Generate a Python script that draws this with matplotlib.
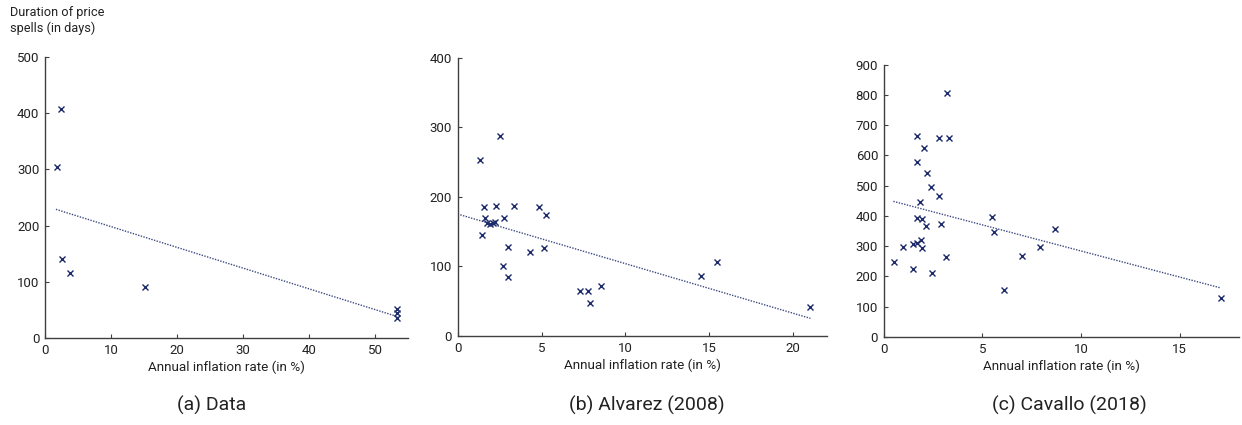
import matplotlib
matplotlib.use("Agg")
import matplotlib.pyplot as plt
import numpy as np

plt.rcParams['font.family'] = ['Roboto', 'DejaVu Sans']

# (a) Data
data_x = [2.36, 1.76, 2.6, 3.77, 15.2, 53.3, 53.3, 53.3]
data_y = [407, 305, 140, 115, 90, 51, 44, 36]

# (b) Alvarez (2008)
alv_x = [1.33, 2.51, 1.56, 2.28, 3.36, 4.83, 5.27, 1.62, 2.77, 1.72, 1.92, 2.08, 2.22,
         1.44, 3.03, 4.34, 5.15, 2.69, 3.03, 7.27, 7.76, 7.90, 8.55, 14.5, 15.49, 21.03]
alv_y = [253, 288, 186, 187, 187, 186, 174, 169, 169, 163, 161, 163, 164,
         145, 128, 121, 127, 100, 85, 64, 65, 48, 72, 86, 107, 41]

# (c) Cavallo (2018)
cav_x = [3.20, 1.70, 2.79, 3.32, 2.04, 1.70, 2.21, 2.39, 2.81, 1.82, 5.50, 1.70, 1.94,
         2.12, 2.91, 5.61, 8.70, 1.49, 1.70, 1.87, 1.92, 0.99, 7.90, 0.51, 3.18, 7.00,
         1.49, 2.47, 6.11, 17.1]
cav_y = [805, 665, 659, 659, 626, 579, 543, 495, 466, 446, 397, 393, 391,
         367, 373, 348, 357, 306, 310, 321, 295, 296, 296, 249, 265, 269,
         224, 212, 154, 128]

# fitted lines (intercept, slope) and their x span
trend_coef = [(235.1, -3.69), (175.3, -7.13), (456.8, -17.26)]
trend_span = [(1.66, 53.5), (0.0, 21.03), (0.49, 17.02)]

captions = ['(a) Data', '(b) Alvarez (2008)', '(c) Cavallo (2018)']
xlims = [55, 22, 18]
xsteps = [10, 5, 5]
ylims = [500, 400, 900]

navy = '#1c2a6b'
spine_col = '#404040'
text_col = '#222222'

fig = plt.figure(figsize=(12.42, 4.25), dpi=100)
boxes = [[0.0362, 0.2047, 0.2923, 0.6612],
         [0.3685, 0.2094, 0.2971, 0.6548],
         [0.7115, 0.2071, 0.2861, 0.6407]]
caption_x = [0.170, 0.521, 0.861]

series = [(data_x, data_y), (alv_x, alv_y), (cav_x, cav_y)]

for i, (xs, ys) in enumerate(series):
    ax = fig.add_axes(boxes[i])
    ax.plot(xs, ys, linestyle='none', marker='x', color=navy, ms=5, mew=1.0, zorder=3)
    b0, b1 = trend_coef[i]
    lx = np.array(trend_span[i])
    ax.plot(lx, b0 + b1 * lx, linestyle=(0, (1, 1)), color=navy, lw=1.0, alpha=0.85)

    ax.set_xlim(0, xlims[i])
    ax.set_ylim(0, ylims[i])
    ax.set_xticks(np.arange(0, xlims[i], xsteps[i]))
    ax.set_yticks(np.arange(0, ylims[i] + 1, 100))
    for s in ['top', 'right']:
        ax.spines[s].set_visible(False)
    for s in ['left', 'bottom']:
        ax.spines[s].set_color(spine_col)
        ax.spines[s].set_linewidth(1.0)
    ax.tick_params(direction='in', length=3, width=0.8, color=spine_col,
                   labelsize=9.5, labelcolor=text_col, pad=4)
    ax.set_xlabel('Annual inflation rate (in %)', fontsize=9.7, color=text_col, labelpad=3)

    # caption under each panel
    fig.text(caption_x[i], 0.047, captions[i], ha='center', va='center',
             fontsize=14, color=text_col)

fig.text(0.008, 0.985, 'Duration of price\nspells (in days)', ha='left', va='top',
         fontsize=9.2, color=text_col, linespacing=1.25)

fig.savefig('out.png', dpi=100)
